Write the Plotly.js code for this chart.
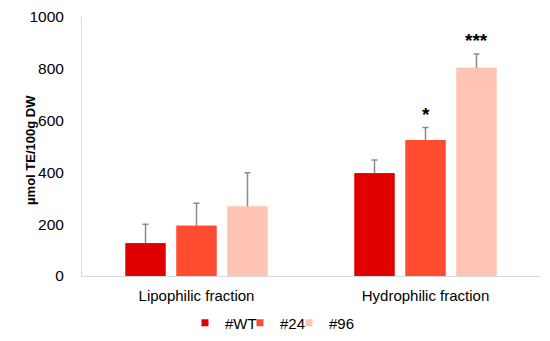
<!DOCTYPE html>
<html>
<head>
<meta charset="utf-8">
<script src="https://cdn.plot.ly/plotly-3.0.1.min.js"></script>
<style>html,body{margin:0;padding:0;background:#fff;}#chart{width:550px;height:341px;}</style>
</head>
<body>
<div id="chart"></div>
<script>
var categories = ["Lipophilic fraction", "Hydrophilic fraction"];
var seriesNames = ["#WT", "#24", "#96"];
var valuesWT = [126, 397];
var values24 = [194, 525];
var values96 = [268, 804];
var errWT = [74, 51];
var err24 = [87, 48];
var err96 = [131, 53];
var significance24 = ["", "*"];
var significance96 = ["", "***"];
var yTitle = "µmol TE/100g DW";

var colors = ["#e00000", "#ff4b30", "#ffc4b4"];
var allValues = [valuesWT, values24, values96];
var allErr = [errWT, err24, err96];
var legendIds = ["legend", "legend2", "legend3"];
var legendX = [0.3636, 0.4636, 0.5527];

var traces = [];
allValues.forEach(function (vals, i) {
  traces.push({
    type: "bar", name: seriesNames[i], x: categories, y: vals,
    offsetgroup: "g" + i,
    marker: {color: colors[i]}, showlegend: false,
    error_y: {type: "data", array: allErr[i], visible: true, color: "#8c8c8c", thickness: 1.5, width: 3},
    hoverinfo: "skip"
  });
});
allValues.forEach(function (vals, i) {
  traces.push({
    type: "bar", name: seriesNames[i], x: categories, y: vals,
    offsetgroup: "g" + i,
    marker: {color: colors[i]}, showlegend: false, hoverinfo: "skip"
  });
});
seriesNames.forEach(function (n, i) {
  traces.push({
    type: "scatter", mode: "markers", name: n, x: [null], y: [null],
    marker: {symbol: "square", size: 7, color: colors[i]},
    showlegend: true, legend: legendIds[i], hoverinfo: "skip"
  });
});

var bargap = 0.332, bargroupgap = 0.216;
var slot = (1 - bargap) / 3;
var annotations = [];
[significance24, significance96].forEach(function (sig, k) {
  var s = k + 1;
  var vals = allValues[s], errs = allErr[s];
  sig.forEach(function (t, j) {
    if (!t) return;
    annotations.push({
      x: j + (s - 1) * slot, y: vals[j] + errs[j], xref: "x", yref: "y",
      text: "<b>" + t + "</b>", showarrow: false, yanchor: "bottom", yshift: 1,
      font: {family: "Liberation Sans, Arial, sans-serif", size: 19, color: "#000"}
    });
  });
});
annotations.push({
  xref: "paper", yref: "paper", x: -0.114, y: 0.486, xanchor: "center", yanchor: "middle",
  text: "<b>" + yTitle + "</b>", textangle: -90, showarrow: false,
  font: {family: "Liberation Sans, Arial, sans-serif", size: 13, color: "#000"}
});

var layout = {
  width: 550, height: 341,
  margin: {l: 82, r: 10, t: 17, b: 65},
  paper_bgcolor: "#fff", plot_bgcolor: "#fff",
  barmode: "group", bargap: bargap, bargroupgap: bargroupgap,
  font: {family: "Liberation Sans, Arial, sans-serif", size: 15, color: "#000"},
  showlegend: true,
  xaxis: {
    type: "category", showline: true, linecolor: "#d9d9d9", linewidth: 1,
    showgrid: false, ticks: "", ticklabelstandoff: 6, tickfont: {size: 15}
  },
  yaxis: {
    range: [0, 1000], dtick: 200, showline: true, linecolor: "#d9d9d9", linewidth: 1,
    showgrid: false, zeroline: false, ticks: "", ticklabelstandoff: 14,
    tickfont: {size: 15.5}
  },
  annotations: annotations
};
legendIds.forEach(function (id, i) {
  layout[id] = {orientation: "h", x: legendX[i], xref: "container", xanchor: "left",
                y: 0.053, yref: "container", yanchor: "middle",
                font: {size: 15}, itemwidth: 30, indentation: -15, bgcolor: "rgba(0,0,0,0)"};
});

Plotly.newPlot("chart", traces, layout, {displayModeBar: false, staticPlot: true});
</script>
</body>
</html>
